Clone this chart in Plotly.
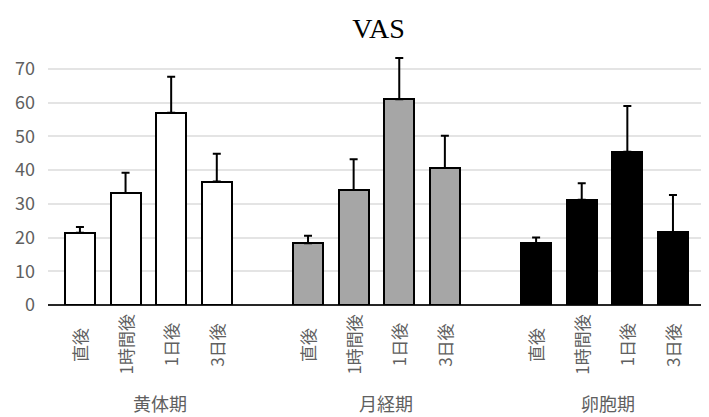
import plotly.graph_objects as go

groups = ["黄体期", "月経期", "卵胞期"]
timepoints = ["直後", "1時間後", "1日後", "3日後"]
values = {
    "黄体期": [21.4, 33.2, 57.0, 36.6],
    "月経期": [18.3, 34.1, 61.0, 40.6],
    "卵胞期": [18.3, 31.2, 45.4, 21.6],
}
errors = {
    "黄体期": [1.7, 6.0, 10.7, 8.2],
    "月経期": [2.2, 9.1, 12.2, 9.6],
    "卵胞期": [1.7, 4.9, 13.6, 11.0],
}
fills = {"黄体期": "#ffffff", "月経期": "#a6a6a6", "卵胞期": "#000000"}
yticks = [0, 10, 20, 30, 40, 50, 60, 70]

# The page body has an 8px default margin, so the figure is sized to fit.
W, H = 701, 409
TXT = "#606060"

fig = go.Figure()
annotations = []
label_offsets = [1.75, 1.7, 1.58]
for g, name in enumerate(groups):
    xs = [g * 5 + i for i in range(len(timepoints))]
    fig.add_trace(go.Bar(
        x=xs, y=values[name], width=0.66,
        marker=dict(color=fills[name], line=dict(color="#000000", width=2)),
        error_y=dict(type="data", symmetric=False, array=errors[name],
                     arrayminus=[0] * len(xs), color="#000000",
                     thickness=2, width=4),
        cliponaxis=False, showlegend=False, name=name,
    ))
    for x, t in zip(xs, timepoints):
        annotations.append(dict(
            x=x, xref="x", y=-0.158, yref="paper", text=t, textangle=-90,
            showarrow=False, xanchor="center", yanchor="middle",
            font=dict(family="Noto Sans CJK JP", size=17, color=TXT),
        ))
    annotations.append(dict(
        x=xs[0] + label_offsets[g], xref="x", y=-0.388, yref="paper",
        text=name, showarrow=False, xanchor="center", yanchor="middle",
        font=dict(family="Noto Sans CJK JP", size=18, color=TXT),
    ))

fig.update_layout(
    width=W, height=H,
    margin=dict(l=40, r=0, t=44, b=112),
    paper_bgcolor="white", plot_bgcolor="white",
    title=dict(text="VAS", x=0.5, xref="paper", y=1 - 20 / H, yref="container",
               xanchor="center", yanchor="middle",
               font=dict(family="Liberation Serif", size=28, color="#000000")),
    xaxis=dict(range=[-0.7, 13.79], showticklabels=False, showgrid=False,
               zeroline=False, showline=False, ticks=""),
    yaxis=dict(range=[0, 75], tickvals=yticks, showgrid=True,
               gridcolor="#e4e4e4", gridwidth=1.5, zeroline=True,
               zerolinecolor="#262626", zerolinewidth=2, ticks="",
               ticklabelstandoff=12,
               tickfont=dict(family="Noto Sans CJK JP", size=18, color=TXT)),
    annotations=annotations,
    bargap=0,
)

fig.write_html("out.html")
